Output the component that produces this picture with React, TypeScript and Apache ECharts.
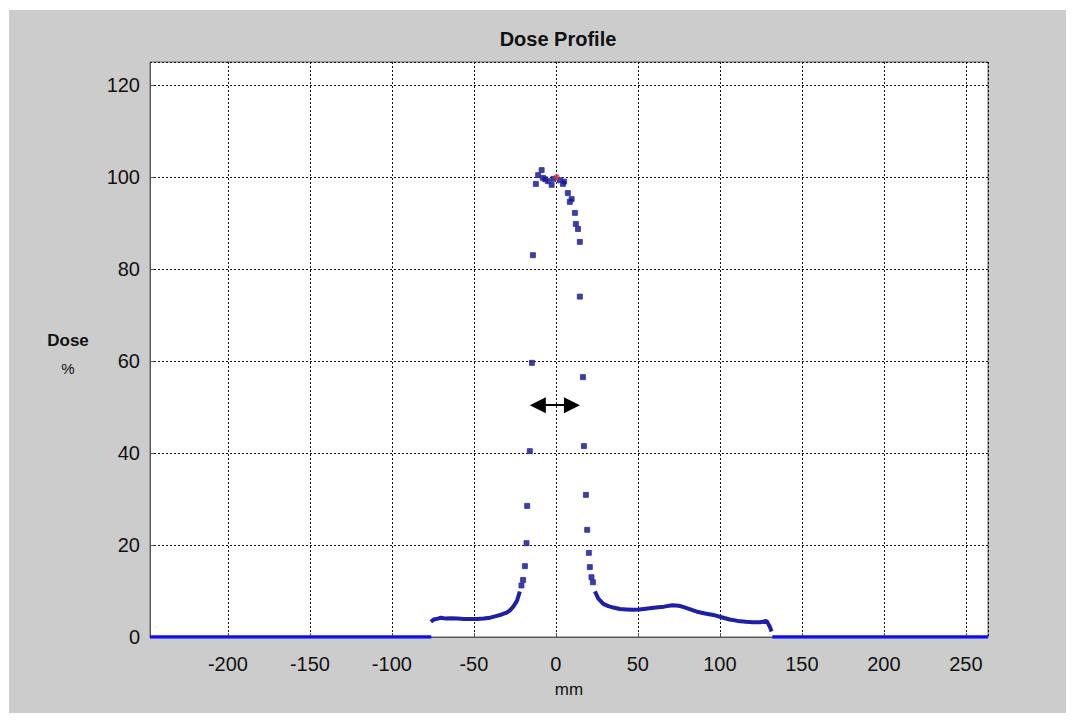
import React, { useEffect, useRef } from "react";
import * as echarts from "echarts";

// Baseline segments (dose 0) outside the field
const baselineLeft: [number, number][] = [[-247.5, 0], [-76, 0]];
const baselineRight: [number, number][] = [[132, 0], [263.5, 0]];

// Low-dose tails (dense measured points)
const tailLeft: [number, number][] = [
  [-76.2, 3.3], [-74.5, 3.8], [-72, 4.0], [-70, 4.2], [-67, 4.0], [-64, 4.1],
  [-60, 4.0], [-56, 3.9], [-52, 3.9], [-48, 3.9], [-44, 4.0], [-40, 4.2],
  [-36, 4.6], [-33, 4.9], [-30, 5.3], [-28, 5.8], [-26, 6.6], [-24.5, 7.4],
  [-23.6, 8.0], [-22, 9.9],
];
const tailRight: [number, number][] = [
  [23.8, 9.9], [25.8, 8.4], [28.9, 7.2], [32, 6.7], [35, 6.4], [39, 6.1],
  [43, 6.0], [47, 5.9], [51, 6.0], [56, 6.2], [61, 6.4], [66, 6.6], [71, 6.9],
  [75, 6.8], [78, 6.5], [82, 6.0], [86, 5.5], [91, 5.1], [96, 4.8], [101, 4.3],
  [106, 3.8], [111, 3.5], [116, 3.3], [120, 3.2], [124.5, 3.2], [128.5, 3.5],
  [130.5, 2.2], [131.5, 1.2],
];

// Sparse points across the penumbra and peak
const peakPoints: [number, number][] = [
  [-21, 11.2], [-20, 12.4], [-18.9, 15.4], [-17.9, 20.4], [-17.5, 28.5],
  [-15.9, 40.4], [-14.6, 59.6], [-14, 83], [-12.2, 98.5], [-10.8, 100.4],
  [-8.7, 101.5], [-7.9, 99.8], [-6.5, 99.5], [-4.9, 99.1], [-2.6, 98.3],
  [-1.5, 99.6], [2.4, 99.3], [4.3, 98.5], [5, 99], [7.3, 96.5], [8.5, 94.6],
  [9.6, 95.2], [11.6, 92.2], [12.2, 89.8], [13.5, 88.7], [14.6, 85.9],
  [14.6, 74], [16.5, 56.5], [17.1, 41.5], [18.3, 30.9], [19.1, 23.3],
  [20.1, 18.3], [20.7, 15.2], [21.7, 13], [22.6, 11.9],
];

// Reference point (normalisation)
const refPoint: [number, number][] = [[0.5, 100]];

// Width annotation (double arrow) at 50 %
const arrowLevel = 50.4;
const arrowEnds = [-11, 9.8];

const xRange = [-247.5, 263.5];
const yRange = [0, 125];

export default function App() {
  const ref = useRef<HTMLDivElement>(null);
  useEffect(() => {
    if (!ref.current) return;
    const chart = echarts.init(ref.current, undefined, { renderer: "svg" });
    const font = "'Liberation Sans', Arial, sans-serif";
    chart.setOption({
      animation: false,
      backgroundColor: "#ffffff",
      textStyle: { fontFamily: font },
      title: {
        text: "Dose Profile",
        left: 553,
        top: 24,
        textAlign: "center",
        textStyle: { fontSize: 20, fontWeight: "bold", color: "#111", fontFamily: font },
      },
      graphic: [
        {
          type: "rect",
          z: -10,
          silent: true,
          shape: { x: 9, y: 10, width: 1057, height: 703 },
          style: { fill: "#cccccc" },
        },
        {
          type: "text",
          x: 68,
          y: 340,
          style: {
            text: "Dose",
            fill: "#111",
            font: `bold 17px ${font}`,
            align: "center",
            verticalAlign: "middle",
          },
        },
        {
          type: "text",
          x: 68,
          y: 368,
          style: {
            text: "%",
            fill: "#111",
            font: `15px ${font}`,
            align: "center",
            verticalAlign: "middle",
          },
        },
      ],
      grid: {
        left: 150,
        top: 62,
        right: 86,
        bottom: 83,
        show: true,
        backgroundColor: "#ffffff",
        borderColor: "#666666",
        borderWidth: 1,
      },
      xAxis: {
        type: "value",
        min: xRange[0],
        max: xRange[1],
        splitNumber: 10,
        minInterval: 50,
        maxInterval: 50,
        name: "mm",
        nameLocation: "middle",
        nameGap: 44,
        nameTextStyle: { fontSize: 17, color: "#111", fontFamily: font },
        axisLine: { show: true, onZero: false, lineStyle: { color: "#555", width: 1 } },
        axisTick: { show: true, inside: true, length: 4, lineStyle: { color: "#555" } },
        axisLabel: {
          fontSize: 20,
          color: "#111",
          margin: 17,
          showMinLabel: false,
          showMaxLabel: false,
        },
        splitLine: { show: true, lineStyle: { color: "#111", type: [2, 2], width: 1 } },
      },
      yAxis: {
        type: "value",
        min: yRange[0],
        max: yRange[1],
        interval: 20,
        axisLine: { show: true, onZero: false, lineStyle: { color: "#555", width: 1 } },
        axisTick: { show: true, inside: true, length: 4, lineStyle: { color: "#555" } },
        axisLabel: {
          fontSize: 20,
          color: "#111",
          margin: 10,
          showMaxLabel: false,
        },
        splitLine: { show: true, lineStyle: { color: "#111", type: [2, 2], width: 1 } },
      },
      series: [
        {
          type: "line",
          data: baselineLeft,
          showSymbol: false,
          lineStyle: { color: "#1010ee", width: 3.5 },
          z: 5,
        },
        {
          type: "line",
          data: baselineRight,
          showSymbol: false,
          lineStyle: { color: "#1010ee", width: 3.5 },
          z: 5,
        },
        {
          type: "line",
          data: tailLeft,
          showSymbol: false,
          lineStyle: { color: "#1e1ea6", width: 4 },
          z: 5,
        },
        {
          type: "line",
          data: tailRight,
          showSymbol: false,
          lineStyle: { color: "#1e1ea6", width: 4 },
          z: 5,
        },
        {
          type: "scatter",
          data: peakPoints,
          symbol: "rect",
          symbolSize: 5,
          itemStyle: { color: "#12126e", borderColor: "#2a2acc", borderWidth: 1 },
          z: 6,
        },
        {
          type: "scatter",
          data: refPoint,
          symbolSize: 6,
          itemStyle: { color: "#e03030" },
          z: 7,
        },
        {
          type: "line",
          data: [],
          markLine: {
            silent: true,
            symbol: ["triangle", "triangle"],
            symbolSize: 16,
            label: { show: false },
            lineStyle: { color: "#000", width: 2, type: "solid" },
            data: [
              [
                { coord: [arrowEnds[0], arrowLevel] },
                { coord: [arrowEnds[1], arrowLevel] },
              ],
            ],
          },
          z: 8,
        },
      ],
    });
    return () => chart.dispose();
  }, []);
  return (
    <div
      ref={ref}
      style={{ position: "absolute", left: 0, top: 0, width: 1074, height: 720 }}
    />
  );
}
